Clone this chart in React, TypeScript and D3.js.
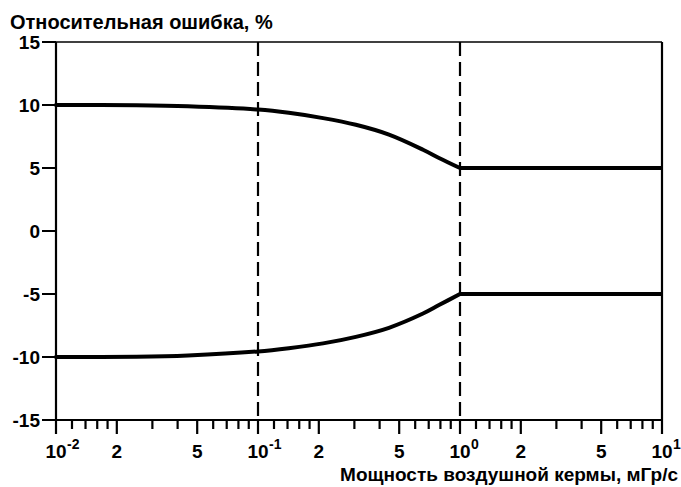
import React from "react";
import * as d3 from "d3";

// ---- data ----
const doseRate = [0.01, 0.025, 0.045, 0.1, 0.142, 0.21, 0.305, 0.445, 0.656, 0.787, 1];
const upperError = [10, 9.98, 9.9, 9.64, 9.38, 8.96, 8.43, 7.65, 6.45, 5.8, 5];
const lowerError = [-10, -9.98, -9.88, -9.56, -9.3, -8.92, -8.4, -7.68, -6.55, -5.88, -5];
const flatDoseRate = [1, 10];
const flatUpper = [5, 5];
const flatLower = [-5, -5];

const yTicks = [-15, -10, -5, 0, 5, 10, 15];
const decades = [0.01, 0.1, 1];
const decadeExponents = ["-2", "-1", "0", "1"];
const majorMultipliers = [2, 5];
const minorMultipliers = [1.2, 1.4, 1.6, 1.8, 3, 4, 6, 7, 8, 9];
const dashedAt = [0.1, 1];

const yTitle = "Относительная ошибка, %";
const xTitle = "Мощность воздушной кермы, мГр/с";

const W = 681;
const H = 487;
const FONT = "'Liberation Sans', Arial, Helvetica, sans-serif";

export default function App() {
  const x = d3.scaleLog().domain([0.01, 10]).range([56, 662]);
  const y = d3.scaleLinear().domain([-15, 15]).range([420, 42]);

  const curve = d3
    .line<[number, number]>()
    .x((d) => x(d[0]))
    .y((d) => y(d[1]))
    .curve(d3.curveCatmullRom.alpha(0.5));
  const straight = d3
    .line<[number, number]>()
    .x((d) => x(d[0]))
    .y((d) => y(d[1]));

  const up = doseRate.map((v, i) => [v, upperError[i]] as [number, number]);
  const lo = doseRate.map((v, i) => [v, lowerError[i]] as [number, number]);
  const fu = flatDoseRate.map((v, i) => [v, flatUpper[i]] as [number, number]);
  const fl = flatDoseRate.map((v, i) => [v, flatLower[i]] as [number, number]);

  const decadeTicks = [...decades, 10];
  const majorTicks: number[] = [];
  const minorTicks: number[] = [];
  decades.forEach((d) => {
    majorMultipliers.forEach((m) => majorTicks.push(d * m));
    minorMultipliers.forEach((m) => minorTicks.push(d * m));
  });

  const y0 = y(-15);
  const left = x(0.01);
  const right = x(10);
  const top = y(15);

  return (
    <svg
      width={W}
      height={H}
      style={{ position: "absolute", left: 0, top: 0, background: "#fff" }}
      fontFamily={FONT}
    >
      <rect x={0} y={0} width={W} height={H} fill="#fff" />
      {/* dashed verticals */}
      {dashedAt.map((v) => (
        <line
          key={"d" + v}
          x1={x(v)}
          x2={x(v)}
          y1={top}
          y2={y0}
          stroke="#000"
          strokeWidth={2.2}
          strokeDasharray="14,6"
        />
      ))}
      {/* frame */}
      <line x1={left} x2={right} y1={top} y2={top} stroke="#000" strokeWidth={1.6} />
      <line x1={right} x2={right} y1={top} y2={y0} stroke="#000" strokeWidth={2.2} />
      <line x1={left} x2={left} y1={top} y2={y0 + 1} stroke="#000" strokeWidth={2.2} />
      <line x1={left - 1} x2={right + 1} y1={y0} y2={y0} stroke="#000" strokeWidth={2.2} />

      {/* y ticks */}
      {yTicks.map((t) => (
        <g key={"y" + t}>
          <line x1={left - 14} x2={left} y1={y(t)} y2={y(t)} stroke="#000" strokeWidth={2} />
          <text
            x={left - 16}
            y={y(t) + 6.8}
            textAnchor="end"
            fontSize={19}
            fontWeight="bold"
          >
            {t}
          </text>
        </g>
      ))}

      {/* x ticks */}
      {decadeTicks.map((t) => (
        <line key={"xd" + t} x1={x(t)} x2={x(t)} y1={y0} y2={y0 + 14} stroke="#000" strokeWidth={2.2} />
      ))}
      {majorTicks.map((t) => (
        <line key={"xm" + t} x1={x(t)} x2={x(t)} y1={y0} y2={y0 + 14} stroke="#000" strokeWidth={2.2} />
      ))}
      {minorTicks.map((t) => (
        <line key={"xn" + t} x1={x(t)} x2={x(t)} y1={y0} y2={y0 + 9} stroke="#000" strokeWidth={2.2} />
      ))}

      {/* x tick labels */}
      {decadeTicks.map((t, i) => (
        <g key={"xl" + t}>
          <text x={x(t)} y={458} textAnchor="middle" fontSize={19} fontWeight="bold">
            10
          </text>
          <text x={x(t) + 11} y={449} textAnchor="start" fontSize={14} fontWeight="bold">
            {decadeExponents[i]}
          </text>
        </g>
      ))}
      {majorTicks.map((t, i) => (
        <text key={"xml" + t} x={x(t)} y={458} textAnchor="middle" fontSize={19} fontWeight="bold">
          {majorMultipliers[i % majorMultipliers.length]}
        </text>
      ))}

      {/* curves */}
      {[up, lo].map((pts, i) => (
        <path key={"c" + i} d={curve(pts) || ""} fill="none" stroke="#000" strokeWidth={4} strokeLinejoin="round" strokeLinecap="round" />
      ))}
      {[fu, fl].map((pts, i) => (
        <path key={"f" + i} d={straight(pts) || ""} fill="none" stroke="#000" strokeWidth={4} />
      ))}

      {/* titles */}
      <text x={10} y={29} fontSize={20} fontWeight="bold">
        {yTitle}
      </text>
      <text x={678} y={481} textAnchor="end" fontSize={19} fontWeight="bold">
        {xTitle}
      </text>
    </svg>
  );
}
